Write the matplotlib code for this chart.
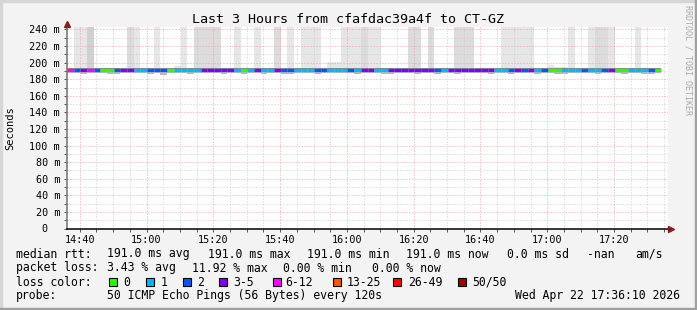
import matplotlib
matplotlib.use("Agg")
import matplotlib.pyplot as plt
from matplotlib.patches import Rectangle
from matplotlib.ticker import FixedLocator, MultipleLocator
from matplotlib.transforms import ScaledTranslation

# --- data ----------------------------------------------------------------
# 2 minute probe steps, time in minutes after 14:00
t_start = 36 + 10 / 60          # 14:36:10
t_end = 216 + 10 / 60           # 17:36:10
step_min = 2

# packets lost (of 50) per step
loss = [6, 2, 3, 6, 2, 0, 0, 2, 3, 3, 1, 1, 2, 2, 2, 0, 1, 1, 1, 1,
        3, 3, 3, 3, 3, 1, 0, 1, 3, 1, 1, 3, 2, 2, 1, 1, 1, 2, 2, 1,
        1, 1, 2, 1, 3, 3, 1, 1, 3, 3, 3, 3, 3, 3, 3, 2, 1, 3, 3, 3,
        3, 3, 3, 3, 1, 1, 2, 3, 2, 3, 1, 2, 0, 0, 1, 1, 1, 2, 1, 1,
        2, 3, 0, 0, 1, 1, 1, 2, 0]

median_rtt = [191.0] * 89

# top of the smoke per step (ms); 250 = beyond the chart top
smoke_hi = [194, 250, 250, 250, 194, 194, 194, 194, 194, 250,
            250, 194, 194, 250, 194, 194, 195.5, 250, 194, 250,
            250, 250, 250, 194, 194, 250, 194, 194, 250, 194,
            194, 250, 194, 250, 194, 250, 250, 250, 194, 201,
            201, 250, 250, 250, 250, 250, 250, 194, 194, 194,
            194, 250, 250, 194, 250, 194, 194, 194, 250, 250,
            250, 194, 194, 194, 194, 250, 250, 250, 250, 250,
            194, 194, 197.5, 195, 195, 250, 194, 194, 250, 250,
            250, 250, 194, 194, 194, 250, 194, 194, 194]

# smoke density per step: 0 thin, 1 light, 2 medium, 3 dense
smoke_shade = [0, 1, 1, 3, 0, 0, 0, 0, 0, 2, 1, 0, 1, 1, 0, 0, 1, 1, 0, 2,
               2, 2, 2, 0, 0, 1, 0, 0, 1, 0, 0, 2, 0, 1, 0, 1, 1, 1, 0, 1,
               1, 1, 1, 1, 2, 1, 1, 0, 0, 1, 0, 2, 2, 0, 2, 0, 0, 0, 2, 2,
               2, 0, 0, 0, 0, 1, 1, 1, 1, 1, 0, 0, 1, 1, 1, 1, 0, 0, 1, 2,
               2, 1, 0, 0, 0, 1, 0, 0, 0]

# bottom of the smoke per step (ms)
smoke_lo = [187.5, 187, 186.5, 187.5, 187, 187.5, 186.5, 186, 187, 187.5,
            187, 187.5, 186.5, 187.5, 185.5, 187, 187.5, 187, 186, 187.5,
            187, 187.5, 187, 186.5, 187.5, 187, 186.5, 187.5, 187, 186,
            187.5, 187, 186.5, 186, 187.5, 187, 187.5, 186.5, 187, 187.5,
            187, 187.5, 187, 186.5, 187.5, 187, 187.5, 186.5, 186, 187,
            187.5, 187, 186.5, 187.5, 187, 186, 187.5, 187, 186.5, 187.5,
            187, 187.5, 187, 186.5, 187, 187.5, 186.5, 187, 187.5, 187,
            186.5, 187.5, 187, 186, 186.5, 187.5, 187, 187, 187.5, 186.5,
            187, 187.5, 187, 186.5, 187.5, 187, 186.5, 186, 187.5]

tick_minutes = [40, 60, 80, 100, 120, 140, 160, 180, 200]
tick_labels = ["14:40", "15:00", "15:20", "15:40", "16:00",
               "16:20", "16:40", "17:00", "17:20"]
y_ticks = [0, 20, 40, 60, 80, 100, 120, 140, 160, 180, 200, 220, 240]
y_labels = ["0", "20 m", "40 m", "60 m", "80 m", "100 m", "120 m",
            "140 m", "160 m", "180 m", "200 m", "220 m", "240 m"]

loss_names = ["0", "1", "2", "3-5", "6-12", "13-25", "26-49", "50/50"]
loss_colors = ["#26ff00", "#00b8ff", "#0059ff", "#7e00ff",
               "#ff00ff", "#ff5500", "#ff0000", "#a10000"]


def loss_color(n):
    if n <= 2:
        return loss_colors[n]
    if n <= 5:
        return loss_colors[3]
    if n <= 12:
        return loss_colors[4]
    if n <= 25:
        return loss_colors[5]
    if n < 50:
        return loss_colors[6]
    return loss_colors[7]


# --- figure ----------------------------------------------------------------
plt.rcParams["font.family"] = "DejaVu Sans Mono"
W, H = 697, 310
fig = plt.figure(figsize=(W / 100, H / 100), dpi=100)
fig.patch.set_facecolor("#f3f3f3")


def fx(x):
    return x / W


def fy(y):
    return 1 - y / H


# frame
fig.patches.append(Rectangle((0, fy(2)), 1, 2 / H, transform=fig.transFigure, color="#d6d6d6"))
fig.patches.append(Rectangle((0, 0), 2 / W, 1, transform=fig.transFigure, color="#d6d6d6"))
fig.patches.append(Rectangle((fx(695), 0), 2 / W, 1, transform=fig.transFigure, color="#a0a0a0"))
fig.patches.append(Rectangle((0, 0), 1, 2 / H, transform=fig.transFigure, color="#a0a0a0"))

ax = fig.add_axes([fx(67), fy(228.5), 601 / W, (228.5 - 27) / H])
ax.set_facecolor("white")
ax.set_xlim(t_start, t_end)
ax.set_ylim(0, 243)

n = len(loss)
starts = [t_start + step_min * k for k in range(n)]
ends = [s + step_min for s in starts]

shade_cols = {0: "#c8c8c8", 1: "#e6e6e6", 2: "#dcdcdc", 3: "#d0d0d0"}
hi_cols = [shade_cols[s] for s in smoke_shade]
ax.bar(starts, [h - 191 for h in smoke_hi], bottom=191, width=step_min,
       align="edge", color=hi_cols, linewidth=0, zorder=1)
ax.bar(starts, [191 - lo for lo in smoke_lo], bottom=smoke_lo, width=step_min,
       align="edge", color="#b8b8b8", linewidth=0, zorder=1)
ax.bar(starts, 1.2, bottom=192.7, width=step_min, align="edge",
       color="#8a8a8a", linewidth=0, zorder=1.2)

ax.hlines(median_rtt, starts, ends, colors=[loss_color(v) for v in loss],
          linewidth=2.3, zorder=3)

# grid
ax.xaxis.set_major_locator(FixedLocator(tick_minutes))
ax.xaxis.set_minor_locator(MultipleLocator(5))
ax.set_xticklabels(tick_labels)
ax.yaxis.set_major_locator(FixedLocator(y_ticks))
ax.yaxis.set_minor_locator(MultipleLocator(10))
ax.set_yticklabels(y_labels)
ax.set_axisbelow(False)
ax.grid(which="major", color="#f2a0a0", linestyle=(0, (1, 2)), linewidth=0.72, zorder=2)
ax.grid(which="minor", color="#cccccc", linestyle=(0, (1, 2)), linewidth=0.72, zorder=2)

for s in ("top", "right"):
    ax.spines[s].set_visible(False)
ax.spines["left"].set_color("#707070")
ax.spines["bottom"].set_color("#000000")
ax.spines["left"].set_linewidth(1.1)
ax.spines["bottom"].set_linewidth(1.1)
ax.spines["left"].set_zorder(4)
ax.spines["bottom"].set_zorder(4)

ax.tick_params(axis="both", which="both", direction="out", length=2,
               width=0.7, color="#555555", labelsize=7.3)
ax.tick_params(axis="y", pad=3)
ax.tick_params(axis="x", pad=2.5)

lab0 = ax.yaxis.get_major_ticks()[0].label1
lab0.set_transform(lab0.get_transform() + ScaledTranslation(-13 / 100, 0, fig.dpi_scale_trans))

# arrows
ax.plot([0], [1 + 3 / 201.5], marker="^", markersize=5, color="#8b1a1a",
        transform=ax.transAxes, clip_on=False, zorder=5)
ax.plot([1 + 3 / 601], [0], marker=">", markersize=5, color="#8b1a1a",
        transform=ax.transAxes, clip_on=False, zorder=5)

# titles
fig.text(fx(348), fy(23.3), "Last 3 Hours from cfafdac39a4f to CT-GZ",
         ha="center", va="baseline", fontsize=9.6)
fig.text(fx(10), fy(128), "Seconds", rotation=90, ha="center", va="center", fontsize=7.5)
fig.text(fx(688), fy(60), "RRDTOOL / TOBI OETIKER", rotation=270, ha="center",
         va="center", fontsize=6, color="#aaaaaa")

# legend lines
fs = 8.3
line1 = [(16, "median rtt:"), (107.3, "191.0 ms avg"), (208.3, "191.0 ms max"),
         (306.7, "191.0 ms min"), (406, "191.0 ms now"), (506.7, "0.0 ms sd"),
         (586.7, "-nan"), (635.7, "am/s")]
line2 = [(16, "packet loss:"), (107.3, "3.43 % avg"), (192.3, "11.92 % max"),
         (282.7, "0.00 % min"), (372.3, "0.00 % now")]
for x, s in line1:
    fig.text(fx(x), fy(257.5), s, ha="left", va="baseline", fontsize=fs)
for x, s in line2:
    fig.text(fx(x), fy(271.5), s, ha="left", va="baseline", fontsize=fs)

fig.text(fx(16), fy(285.5), "loss color:", ha="left", va="baseline", fontsize=fs)
box_x = [109, 145.7, 182.7, 219, 272.7, 333.3, 393.3, 458.3]
label_x = [123.3, 160.7, 196.7, 233.3, 285, 346.7, 408.3, 472.7]
for bx, lx, name, col in zip(box_x, label_x, loss_names, loss_colors):
    fig.patches.append(Rectangle((fx(bx), fy(286)), 8 / W, 8 / H, transform=fig.transFigure,
                                 facecolor=col, edgecolor="black", linewidth=0.8))
    fig.text(fx(lx), fy(285.5), name, ha="left", va="baseline", fontsize=fs)

fig.text(fx(16), fy(299.5), "probe:", ha="left", va="baseline", fontsize=fs)
fig.text(fx(107.3), fy(299.5), "50 ICMP Echo Pings (56 Bytes) every 120s",
         ha="left", va="baseline", fontsize=fs)
fig.text(fx(680), fy(299.5), "Wed Apr 22 17:36:10 2026", ha="right",
         va="baseline", fontsize=fs)

fig.savefig("out.png", dpi=100, facecolor=fig.get_facecolor())
plt.close(fig)
